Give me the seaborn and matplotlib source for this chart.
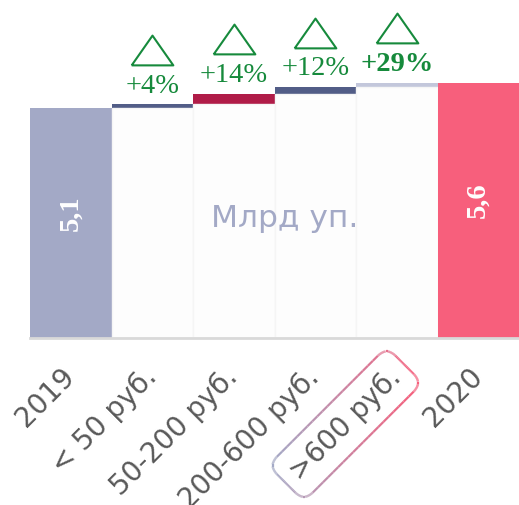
import seaborn as sns
import matplotlib.pyplot as plt
import matplotlib.transforms as mtrans
from matplotlib.collections import LineCollection
from matplotlib.colors import LinearSegmentedColormap
import pandas as pd
import numpy as np

# Data
categories = ["2019", "< 50 руб.", "50-200 руб.", "200-600 руб.", ">600 руб.", "2020"]
start_value = 5.1
step_values = [0.075, 0.235, 0.15, 0.095]
step_labels = ["+4%", "+14%", "+12%", "+29%"]
total_labels = ["5,1", "5,6"]
bar_colors = ["#a3a9c6", "#525d87", "#b01c48", "#525d87", "#c3c7db", "#f75f7c"]
base_color = "#fdfdfd"
green = "#168a3c"

# Waterfall layers: full tops first, then the bases painted over them
tops = start_value + np.concatenate([[0], np.cumsum(step_values)])
end_value = tops[-1]
top_heights = list(tops) + [end_value]
base_heights = [start_value] + list(tops[:-1]) + [end_value]
base_colors = [bar_colors[0]] + [base_color] * 4 + [bar_colors[-1]]

df_top = pd.DataFrame({"cat": categories, "val": top_heights})
df_base = pd.DataFrame({"cat": categories, "val": base_heights})

sns.set_style("white")
plt.rcParams["font.family"] = ["DejaVu Sans"]

fig = plt.figure(figsize=(5.19, 5.05), dpi=100)
ax = fig.add_axes([30 / 519, 1 - 338 / 505, 489 / 519, 328 / 505])

sns.barplot(data=df_top, x="cat", y="val", hue="cat", order=categories,
            hue_order=categories, palette=bar_colors, width=1, saturation=1,
            legend=False, edgecolor="none", ax=ax)
sns.barplot(data=df_base, x="cat", y="val", hue="cat", order=categories,
            hue_order=categories, palette=base_colors, width=1, saturation=1,
            legend=False, edgecolor="#f5f5f5", linewidth=1.0, ax=ax)
# keep the end bars without the light outline
for i in (0, 5):
    ax.patches[6 + i].set_edgecolor("none")

ax.set_xlim(-0.5, 5.5)
ax.set_ylim(0, 7.26)
ax.set_xlabel("")
ax.set_ylabel("")
ax.set_yticks([])
for side in ["left", "top", "right"]:
    ax.spines[side].set_visible(False)
ax.spines["bottom"].set_color("#d9d9d9")
ax.spines["bottom"].set_linewidth(2)

ax.set_xticks(range(len(categories)))
ax.set_xticklabels(categories, rotation=45, ha="right", va="center",
                   rotation_mode="anchor", fontsize=20, color="#595959")
ax.tick_params(axis="x", length=0, pad=25)

# Totals inside the end bars
ax.text(0, start_value * 0.54, total_labels[0], rotation=90, ha="center", va="center",
        color="white", fontsize=20.5, weight="bold", family="Liberation Serif")
ax.text(5, end_value * 0.54, total_labels[1], rotation=90, ha="center", va="center",
        color="white", fontsize=20.5, weight="bold", family="Liberation Serif")

ax.text(2.62, 2.65, "Млрд уп.", ha="center", va="center", fontsize=22.5, color="#a3a9c6")

# Growth labels with triangles
tri = [(-1, -0.714), (1, -0.714), (0, 0.714), (-1, -0.714)]
tri_trans = mtrans.offset_copy(ax.transData, fig=fig, y=39, units="points")
for i, lbl in enumerate(step_labels):
    x = i + 1
    y = tops[i + 1]
    ax.plot([x], [y], marker=tri, ms=30, mfc="none", mec=green, mew=1.5,
            transform=tri_trans, clip_on=False)
    ax.annotate(lbl, (x, y), xytext=(0, 13), textcoords="offset points",
                ha="center", va="center", fontsize=20.5, color=green,
                family="Liberation Serif",
                weight="bold" if i == len(step_labels) - 1 else "normal")

# Rounded gradient frame around the ">600 руб." label
lab = ax.get_xticklabels()[4]
lab.set_bbox(dict(boxstyle="round,pad=0.4,rounding_size=0.45", fc="none", ec="none"))
fig.canvas.draw()
patch = lab.get_bbox_patch()
polys = patch.get_path().to_polygons(patch.get_transform(), closed_only=False)
cmap = LinearSegmentedColormap.from_list("frame", ["#a3a9c6", "#f75f7c"])
for poly in polys:
    pts = []
    for a, b in zip(poly[:-1], poly[1:]):
        for t in np.linspace(0, 1, 20, endpoint=False):
            pts.append(a + (b - a) * t)
    pts.append(poly[-1])
    pts = np.array(pts)
    segs = np.stack([pts[:-1], pts[1:]], axis=1)
    xm = segs[:, :, 0].mean(axis=1)
    tv = (xm - xm.min()) / (xm.max() - xm.min())
    lc = LineCollection(segs, colors=cmap(tv), linewidths=1.6,
                        transform=mtrans.IdentityTransform())
    fig.add_artist(lc)

fig.savefig("out.png", dpi=100)
